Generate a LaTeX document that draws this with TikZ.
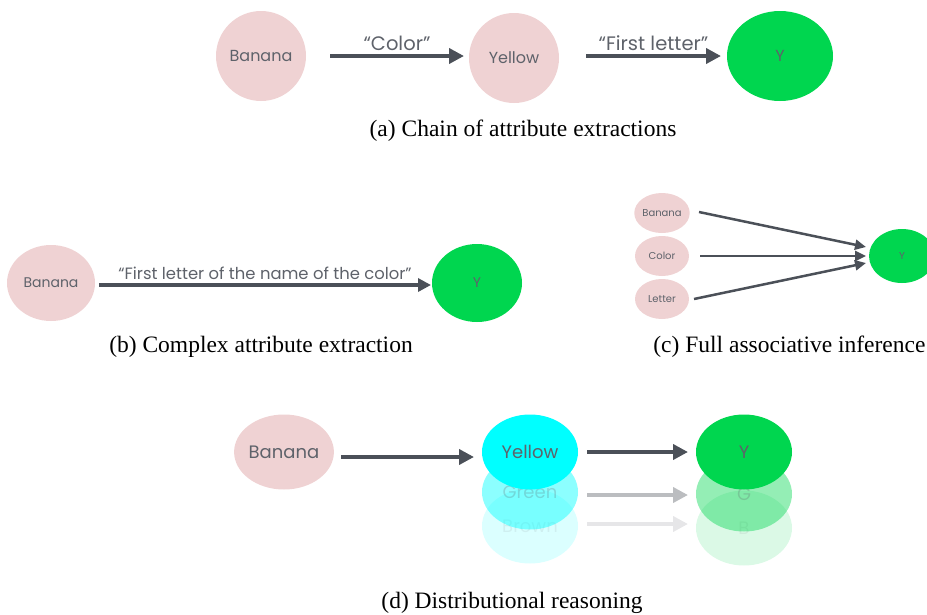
\documentclass[tikz,border=0pt]{standalone}
\usepackage{fontspec}
\setmainfont{Liberation Serif}
\newfontfamily\nodefont{Poppins}
\usetikzlibrary{shapes.geometric,arrows.meta}
\definecolor{pinkfill}{HTML}{EFD2D3}
\definecolor{greenfill}{HTML}{00D64F}
\definecolor{cyanfill}{HTML}{00FFFF}
\definecolor{arrowgray}{HTML}{4B5058}
\definecolor{textgray}{HTML}{5E626A}
\tikzset{
  bubble/.style={ellipse, inner sep=0pt, text=textgray, font=\nodefont\fontsize{16}{16}\selectfont},
  pinkbubble/.style={bubble, fill=pinkfill},
  greenbubble/.style={bubble, fill=greenfill},
  cyanbubble/.style={bubble, fill=cyanfill},
  flow/.style={draw=arrowgray, line width=4pt, -{Triangle[length=15pt,width=15pt]}},
  thinflow/.style={draw=arrowgray, line width=2.5pt, -{Triangle[length=11pt,width=10pt]}},
  edgelabel/.style={text=textgray, font=\nodefont\fontsize{19.5}{19.5}\selectfont},
  caption/.style={font=\fontsize{23.5}{23.5}\selectfont, text=black},
}
\begin{document}
\begin{tikzpicture}[x=1pt,y=-1pt]
\useasboundingbox (0,0) rectangle (927,614);

% (a) chain of attribute extractions
\node[pinkbubble, minimum width=90pt, minimum height=90pt] (a1) at (261,56) {Banana};
\node[pinkbubble, minimum width=90pt, minimum height=90pt] (a2) at (514,58) {Yellow};
\node[greenbubble, minimum width=106pt, minimum height=90pt] (a3) at (780,56) {Y};
\coordinate (a1s) at (330,56); \coordinate (a1e) at (464,56);
\coordinate (a2s) at (586,56); \coordinate (a2e) at (721,56);
\draw[flow] (a1s) -- node[edgelabel, above=0pt] {“Color”} (a1e);
\draw[flow] (a2s) -- node[edgelabel, above=0pt] {“First letter”} (a2e);
\node[caption] (capa) at (523,131) {(a) Chain of attribute extractions};

% (b) complex attribute extraction
\node[pinkbubble, minimum width=88pt, minimum height=76pt, font=\nodefont\fontsize{14}{14}\selectfont] (b1) at (51,283) {Banana};
\node[greenbubble, minimum width=90pt, minimum height=78pt, font=\nodefont\fontsize{14}{14}\selectfont] (b2) at (477,283) {Y};
\coordinate (bs) at (99,285); \coordinate (be) at (431,285);
\draw[flow, line width=3.5pt, -{Triangle[length=13pt,width=13pt]}] (bs) -- node[edgelabel, above=0pt, font=\nodefont\fontsize{16.4}{16.4}\selectfont] {“First letter of the name of the color”} (be);
\node[caption] (capb) at (261,347) {(b) Complex attribute extraction};

% (c) full associative inference
\tikzset{smallbubble/.style={pinkbubble, minimum width=54pt, minimum height=40pt, font=\nodefont\fontsize{10}{10}\selectfont}}
\node[smallbubble] (c1) at (662,213) {Banana};
\node[smallbubble] (c2) at (662,256) {Color};
\node[smallbubble] (c3) at (662,299) {Letter};
\node[greenbubble, minimum width=66pt, minimum height=54pt, font=\nodefont\fontsize{10}{10}\selectfont] (cy) at (902,256) {Y};
\coordinate (c1s) at (699,212); \coordinate (c1e) at (866,247);
\coordinate (c2s) at (700,256); \coordinate (c2e) at (866,256);
\coordinate (c3s) at (694,299); \coordinate (c3e) at (866,263);
\draw[thinflow] (c1s) -- (c1e);
\draw[thinflow] (c2s) -- (c2e);
\draw[thinflow] (c3s) -- (c3e);
\node[caption, anchor=east] (capc) at (929,347) {(c) Full associative inference};

% (d) distributional reasoning
\tikzset{dbubble/.style={minimum width=96pt, minimum height=75pt, font=\nodefont\fontsize{18}{18}\selectfont}}
\node[cyanbubble, dbubble, fill opacity=0.14, text opacity=0.1] (d5) at (530,526) {Brown};
\node[cyanbubble, dbubble, fill opacity=0.45, text opacity=0.25] (d4) at (530,492) {Green};
\node[cyanbubble, dbubble] (d2) at (530,452) {Yellow};
\node[greenbubble, dbubble, fill opacity=0.14, text opacity=0.1] (d7) at (744,528) {B};
\node[greenbubble, dbubble, fill opacity=0.42, text opacity=0.25] (d6) at (744,494) {G};
\node[greenbubble, dbubble] (d3) at (744,452) {Y};
\node[pinkbubble, dbubble] (d1) at (284,452) {Banana};
\coordinate (d1s) at (341,457); \coordinate (d1e) at (474,457);
\coordinate (d2s) at (587,452); \coordinate (d2e) at (688,452);
\coordinate (d4s) at (587,495); \coordinate (d4e) at (688,495);
\coordinate (d5s) at (587,524); \coordinate (d5e) at (688,524);
\draw[flow] (d1s) -- (d1e);
\draw[flow] (d2s) -- (d2e);
\draw[flow, draw=arrowgray!38!white] (d4s) -- (d4e);
\draw[flow, draw=arrowgray!14!white] (d5s) -- (d5e);
\node[caption] (capd) at (512,603) {(d) Distributional reasoning};
\end{tikzpicture}
\end{document}
